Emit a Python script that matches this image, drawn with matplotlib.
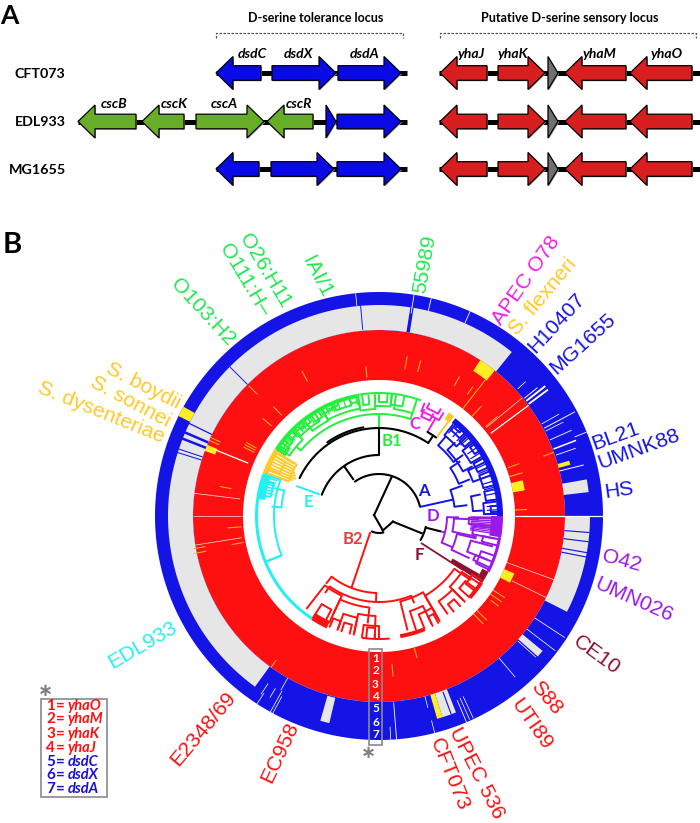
# -*- coding: utf-8 -*-
# Panel A: gene neighbourhoods. Panel B: circular tree with gene presence rings.
import numpy as np
import matplotlib
matplotlib.use('Agg')
import matplotlib.pyplot as plt
from matplotlib.patches import Polygon, Rectangle

BLUE = '#1414e6'
RED = '#fe1010'
GREY = '#e6e6e6'
YELLOW = '#ffee22'
ORANGE = '#ffb020'
WHITE = '#ffffff'
GOLD = '#ffc926'
GREEN = '#1fe84f'
TREE_GREEN = '#22f03c'
MAGENTA = '#f01ee6'
CYAN = '#22f0f5'
PURPLE = '#9a18e8'
DARK_RED = '#8e1230'

# ---- panel A ----
row_names = ['CFT073', 'EDL933', 'MG1655']
row_y = [73, 121.5, 169]
row_name_x = [40, 40, 37]
backbones = [[(216, 407), (439, 700)], [(78, 407), (439, 700)], [(216, 407), (439, 700)]]

# (left, right, direction) per row
blue_genes = [
    [(216, 261, -1), (272, 336, 1), (338, 401, 1)],
    [(326, 336, 1), (337, 401, 1)],
    [(216, 259, -1), (271, 334, 1), (337, 401, 1)],
]
red_genes = [(440, 487, -1), (498, 545, 1), (565, 626, -1), (630, 692, -1)]
grey_gene = (548, 558, 1)
green_genes = [(78, 136, -1), (142, 184, -1), (196, 264, 1), (267, 313, -1)]

gene_labels_top = ['dsdC', 'dsdX', 'dsdA', 'yhaJ', 'yhaK', 'yhaM', 'yhaO']
gene_labels_top_x = [252, 298, 365, 471, 513, 600, 667]
gene_labels_mid = ['cscB', 'cscK', 'cscA', 'cscR']
gene_labels_mid_x = [114, 174, 224, 299]

# ---- panel B rings, angles in degrees ----
grey_spans = [(51, 234, 186, 211), (-27, 0, 186, 211), (6.5, 10, 186, 211),
              (-41.5, -39.5, 186, 212), (-72.5, -68.6, 186, 211), (254, 256.5, 187, 213)]
yellow_spans = [(51.5, 57, 173, 186), (150.8, 153.5, 211, 224), (10, 14, 136, 148),
                (-27, -23, 136, 147), (-74, -72.5, 186, 211), (157.5, 159.5, 175, 186),
                (15, 16.2, 186, 198)]
blue_lines = [(95, 187, 211, .9), (81, 186, 211, 3.2), (135, 186, 211, .9),
              (154, 186, 214, 1.2), (156.7, 186, 214, 2.4), (158.5, 186, 214, 2.4),
              (161.5, 186, 214, 1), (162.5, 186, 214, 1), (-4.5, 186, 211, 1.1),
              (-7, 186, 211, 1.1), (-10, 186, 222, 1.1), (-11.2, 186, 222, 1.1), (-70, 187, 211, 1.1)]
white_lines = [(0, 136, 224, 1.2), (36.5, 139, 186, 1.2), (39.5, 139, 186, .7), (-20, 136, 186, .7),
               (-26, 148, 186, .7), (158, 141, 177, 1.2), (173, 140, 186, .7), (180, 137, 186, .7),
               (189, 139, 186, .7), (96, 211, 224, .7), (81, 205, 224, .8), (76.5, 211, 224, .8),
               (66, 211, 224, .8), (42.5, 188, 199, .7), (38, 187, 211, 1.8), (36.8, 187, 211, 1.8),
               (39, 187, 204, .9), (28, 187, 222, .9), (29.5, 187, 207, .7), (27, 187, 207, .7),
               (24, 187, 211, .8), (22, 211, 224, .8), (21, 187, 211, 1.5), (19, 187, 208, .8),
               (14, 186, 211, .9), (-33.2, 186, 222, .7), (-37.4, 186, 222, .7), (-42, 187, 211, .7),
               (-49.8, 186, 211, .7), (-65, 199, 223, .7), (-66, 199, 223, .7), (-67, 200, 224, .8),
               (-75.7, 186, 198, .7), (-75.6, 211, 224, .7), (-85.5, 187, 224, .8), (-87, 211, 224, .7),
               (236.5, 201, 214, .7), (237, 211, 224, .7), (239, 201, 212, .7), (240.6, 186, 200, .7),
               (241, 200, 226, .7), (241.7, 205, 226, .7)]
orange_lines = [(118, 152, 164), (95, 139, 150), (134, 140, 152), (140, 140, 152), (135, 172, 184),
                (80, 149, 162), (75, 149, 161), (60, 150, 161), (54, 150, 160), (47, 136, 150),
                (52, 136, 175), (40, 139, 155), (20, 175, 186), (20.5, 138, 150), (16.8, 136, 150),
                (2.5, 136, 148), (-33, 136, 150), (-35, 136, 150), (-37, 140, 150), (-44, 136, 150),
                (-46, 136, 150), (-75, 136, 147), (-85, 149, 161), (234.5, 177, 186), (151, 140, 152),
                (152, 140, 152), (153, 140, 152), (169.5, 150, 162), (184.5, 138, 152), (191, 138, 150),
                (190, 176, 188), (191.5, 176, 188), (155, 175, 186), (156, 175, 186)]

# ---- tree: (a0, a1, r_in, r_out) brackets and loose pieces ----
black_arcs = [(245, 285, 17), (13, 125, 42), (90, 159.6, 61), (56, 154.5, 88), (100, 125, 90),
              (-30, -13, 48), (54, 60, 97)]
black_radials = [(125, 44, 61), (90, 61, 88), (56, 88, 97), (-14, 48, 64)]
black_joins = [((72, 41), (170, 5)), ((170, 5), (285, 15)), ((338, 15), (-22, 46)),
               ((285, 15), (338, 15))]
tree_clades = {
    'green': (TREE_GREEN, [(72, 140, 102, 108), (72, 82, 108, 122), (84, 92, 110, 122), (92, 100, 107, 121),
                           (100, 118, 109, 118), (104, 112, 114, 122), (118, 128, 108, 120), (122, 135, 112, 122),
                           (135, 146, 108, 120), (139, 146, 114, 122), (95, 98, 112, 122), (78, 84, 112, 123),
                           (126, 132, 116, 123), (110, 116, 118, 124), (86, 90, 114, 123), (100, 104, 116, 123),
                           (113, 118, 116, 123), (120, 124, 114, 122), (129, 134, 118, 123), (136, 139, 116, 123),
                           (141, 145, 117, 123), (143, 147, 112, 122)]),
    'magenta': (MAGENTA, [(58, 68, 113, 122), (60, 66, 118, 124), (62, 67, 108, 116)]),
    'gold': (GOLD, [(148, 159, 97, 118), (150, 157, 108, 122)]),
    'cyan': (CYAN, [(160, 202, 105, 122), (163, 170, 110, 120), (165, 175, 98, 108)]),
    'blue': (BLUE, [(7, 20, 76, 89), (3, 12, 94, 104), (1, 7, 105, 118), (8, 13, 108, 120), (22, 34, 86, 98),
                    (28, 44, 95, 106), (36, 50, 92, 104), (42, 51, 104, 118), (30, 38, 106, 118),
                    (20, 27, 100, 120), (15, 22, 108, 122), (44, 50, 112, 122), (33, 37, 114, 122),
                    (24, 29, 108, 120), (39, 43, 110, 122), (46, 49, 116, 122), (2, 5, 112, 122)]),
    'purple': (PURPLE, [(-23, -1, 68, 80), (-12, -2, 75, 100), (-5, -1, 90, 115), (-11, -6, 95, 118),
                        (-25, -13, 80, 100), (-22, -15, 95, 118), (-26, -19, 108, 122), (-14, -11, 106, 122),
                        (-25, -22, 104, 122)]),
    'red': (RED, [(232, 268, 77, 86), (235, 292, 86, 94), (232, 245, 88, 118), (237, 243, 105, 122),
                  (245, 264, 92, 108), (250, 258, 104, 120), (258, 268, 100, 122), (262, 270, 110, 123),
                  (252, 256, 112, 122), (284, 300, 88, 118), (288, 296, 100, 120), (292, 300, 106, 122),
                  (300, 325, 92, 112), (305, 315, 104, 120), (315, 326, 100, 122), (322, 328, 110, 122),
                  (246, 250, 112, 122), (264, 268, 112, 123), (296, 299, 112, 123), (308, 312, 112, 122),
                  (318, 323, 108, 122)]),
}
loose_radials = [(60, 97, 113, MAGENTA), (53.7, 97, 118, GOLD), (160, 63, 88, CYAN), (12.5, 42, 76, BLUE),
                 (-14, 64, 68, PURPLE), (90, 88, 102, TREE_GREEN), (202, 105, 122, CYAN)]
tip_bands = [(160, 172, 115, 124, CYAN), (172, 237, 121, 124, CYAN), (147, 160, 119, 124, GOLD),
             (53, 56, 117, 125, GOLD), (100, 147, 120, 124, TREE_GREEN), (70, 100, 122, 124, TREE_GREEN),
             (0, 52, 118, 124, BLUE), (-10, 0, 112, 124, PURPLE), (-27, -10, 121, 124, PURPLE),
             (-33, -27, 116, 123, DARK_RED), (237, 245, 116, 124, RED), (262, 275, 122, 124, RED),
             (280, 292, 120, 124, RED), (318, 327, 120, 124, RED)]
gold_fan = [148.5, 150, 151.5, 153, 154.5, 156, 157.5, 159]
gold_fan_start = [100, 98, 96, 94, 92, 91, 93, 96]
cyan_fan = [161, 162.5, 164, 165.5, 167, 168.5]
purple_fan = [-0.6, -1.5, -2.4, -3.3, -4.2, -5.1, -6, -6.9, -7.8, -8.7]
blue_fan = [1, 3, 5, 8, 11, 14, 17, 20, 23, 26, 29, 32, 35, 38, 41, 44, 47, 50]
green_fan = [101, 104, 107, 110, 113, 116, 119, 122, 125, 128, 130, 132, 134, 136, 138, 140, 141.5, 143, 144.5, 146]

tree_letters = ['B1', 'A', 'D', 'C', 'E', 'B2', 'F']
tree_letter_pos = [(392, 441), (424, 491), (433, 516), (415, 424), (308, 502), (353, 539), (419, 555)]
tree_letter_col = [TREE_GREEN, BLUE, PURPLE, MAGENTA, CYAN, '#e04040', DARK_RED]

# strain name, centre x, centre y, rotation, colour
strain_names = ['O103:H2', 'O26:H11', 'O111:H–', 'IAI/1', '55989', 'APEC O78', 'S. flexneri', 'H10407',
                'MG1655', 'BL21', 'UMNK88', 'HS', 'O42', 'UMN026', 'CE10', 'S88', 'UTI89', 'UPEC 536',
                'CFT073', 'EC958', 'E2348/69', 'EDL933', 'S. boydii', 'S. sonnei', 'S. dysenteriae']
strain_x = [203, 265, 245, 317, 425, 526, 543, 557, 583, 616, 639, 619, 622, 634, 597, 546, 531, 477,
            449, 280, 203, 143, 143, 130, 101]
strain_y = [312, 271, 280, 277, 264, 280, 297, 323, 344, 436, 449, 491, 561, 600, 655, 698, 724, 773,
            774, 752, 729, 645, 386, 402, 412]
strain_rot = [-47, -59, -59, -63, 80, 55, 50, 47, 42, 20, 20, 8, -15, -24, -36, -50, -55, -63, -68, 65,
              50, 30, -27, -28, -22]
strain_col = [GREEN, GREEN, GREEN, GREEN, GREEN, MAGENTA, GOLD, BLUE, BLUE, BLUE, BLUE, BLUE, PURPLE,
              PURPLE, DARK_RED, RED, RED, RED, RED, RED, RED, CYAN, GOLD, GOLD, GOLD]

legend_genes = ['yhaO', 'yhaM', 'yhaK', 'yhaJ', 'dsdC', 'dsdX', 'dsdA']
legend_y = [706, 719, 734, 748, 762, 775, 789]
ring_number_y = [659, 671, 684, 697, 709, 722, 735]

CX, CY = 379, 516

fig = plt.figure(figsize=(7, 8.23), dpi=100)
ax = fig.add_axes([0, 0, 1, 1])
ax.set_xlim(0, 700)
ax.set_ylim(823, 0)
ax.axis('off')


def pol(a, r):
    t = np.radians(a)
    return CX + r * np.cos(t), CY - r * np.sin(t)


def sector(a0, a1, r0, r1, color, z=2):
    t = np.linspace(a0, a1, max(3, int(abs(a1 - a0) * 2)))
    xo, yo = pol(t, r1)
    xi, yi = pol(t[::-1], r0)
    pts = np.column_stack([np.r_[xo, xi], np.r_[yo, yi]])
    ax.add_patch(Polygon(pts, closed=True, fc=color, ec='none', zorder=z))


def arc(a0, a1, r, color, lw=1.5, z=4):
    t = np.linspace(a0, a1, max(3, int(abs(a1 - a0) * 2)))
    x, y = pol(t, r)
    ax.plot(x, y, color=color, lw=lw, zorder=z, solid_capstyle='round')


def radial(a, r0, r1, color, lw=1.5, z=4):
    x, y = pol(np.array([a, a]), np.array([r0, r1]))
    ax.plot(x, y, color=color, lw=lw, zorder=z, solid_capstyle='butt')


def gene(x0, x1, y, d, color):
    head = min(17, x1 - x0)
    h0, h1 = 7.3, 16.5
    if d > 0:
        s = x1 - head
        pts = [(x0, y - h0), (s, y - h0), (s, y - h1), (x1, y), (s, y + h1), (s, y + h0), (x0, y + h0)]
    else:
        s = x0 + head
        pts = [(x1, y - h0), (s, y - h0), (s, y - h1), (x0, y), (s, y + h1), (s, y + h0), (x1, y + h0)]
    if x1 - x0 <= 17:
        pts = [(x0, y - h1), (x1, y), (x0, y + h1)]
    shadow = [(p[0] + 1, p[1] + 1) for p in pts]
    ax.add_patch(Polygon(shadow, closed=True, fc='#a8a8a8', ec='none', zorder=3))
    ax.add_patch(Polygon(pts, closed=True, fc=color, ec='black', lw=.9, zorder=4))


# ---- panel A ----
ax.text(0, 24, 'A', family='Lato', weight='bold', fontsize=19, va='baseline')
ax.text(3, 253, 'B', family='Lato', weight='bold', fontsize=21, va='baseline')
ax.text(316, 18, 'D-serine tolerance locus', family='Lato', weight='bold', fontsize=9, ha='center', va='center')
ax.text(570, 18, 'Putative D-serine sensory locus', family='Lato', weight='bold', fontsize=9.1, ha='center', va='center')
for x0, x1 in [(216, 403), (440, 696)]:
    ax.plot([x0, x0, x1, x1], [38, 33, 33, 38], color='#555555', lw=.9, ls=(0, (2, 1.2)))

for i, y in enumerate(row_y):
    ax.text(row_name_x[i], y + .5, row_names[i], family='Lato', weight='bold', fontsize=10.3, ha='center', va='center')
    for x0, x1 in backbones[i]:
        ax.plot([x0, x1], [y, y], color='black', lw=3.6, solid_capstyle='butt', zorder=2)
    for x0, x1, d in blue_genes[i]:
        gene(x0, x1, y, d, '#0a0ae6')
    for x0, x1, d in red_genes:
        gene(x0, x1, y, d, '#d81e1e')
    gene(grey_gene[0], grey_gene[1], y, grey_gene[2], '#707070')
for x0, x1, d in green_genes:
    gene(x0, x1, row_y[1], d, '#68ad28')
for name, x in zip(gene_labels_top, gene_labels_top_x):
    ax.text(x, 54, name, family='Lato', weight='bold', style='italic', fontsize=10, ha='center', va='center', zorder=6)
for name, x in zip(gene_labels_mid, gene_labels_mid_x):
    ax.text(x, 104, name, family='Lato', weight='bold', style='italic', fontsize=10, ha='center', va='center', zorder=6)

# ---- rings ----
sector(-90, 270, 136, 186, RED, 1)
sector(-90, 270, 186, 224, BLUE, 1)
for a0, a1, r0, r1 in grey_spans:
    sector(a0, a1, r0, r1, GREY, 2)
for a0, a1, r0, r1 in yellow_spans:
    sector(a0, a1, r0, r1, YELLOW, 3)
for a, r0, r1, lw in blue_lines:
    radial(a, r0, r1, BLUE, lw * .75, 3)
for a, r0, r1, lw in white_lines:
    radial(a, r0, r1, WHITE if r0 > 180 or lw > 1 else '#ffd8d8', lw * .75, 3)
for a, r0, r1 in orange_lines:
    radial(a, r0, r1, ORANGE, .75, 3)

# ---- tree ----
for a0, a1, r0, r1, col in tip_bands:
    sector(a0, a1, r0, r1, col, 3)
for a, r0 in zip(gold_fan, gold_fan_start):
    radial(a, r0, 122, GOLD, 1.3)
for a in cyan_fan:
    radial(a, 108, 122, CYAN, 1.1)
for a in purple_fan:
    radial(a, 92, 122, PURPLE, .9)
for a in blue_fan:
    radial(a, 108, 122, BLUE, .9)
for a in green_fan:
    radial(a, 113, 122, TREE_GREEN, .9)
sector(-33, -30, 85, 116, DARK_RED, 3)
radial(-32.7, 50, 100, DARK_RED, 1.3)

for name, (col, brackets) in tree_clades.items():
    for a0, a1, ri, ro in brackets:
        arc(a0, a1, ri, col, 1.4)
        radial(a0, ri, ro, col, 1.4)
        radial(a1, ri, ro, col, 1.4)
for a, r0, r1, col in loose_radials:
    radial(a, r0, r1, col, 1.4)
x0, y0 = pol(242, 19)
x1, y1 = pol(249, 76)
ax.plot([x0, x1], [y0, y1], color=RED, lw=1.4, zorder=4)

for a0, a1, r in black_arcs:
    arc(a0, a1, r, 'black', 1.5, 5)
for a, r0, r1 in black_radials:
    radial(a, r0, r1, 'black', 1.5, 5)
for p, q in black_joins:
    x0, y0 = pol(*p)
    x1, y1 = pol(*q)
    ax.plot([x0, x1], [y0, y1], color='black', lw=1.5, zorder=5)

for s, (x, y), col in zip(tree_letters, tree_letter_pos, tree_letter_col):
    ax.text(x, y, s, family='Lato', weight='bold', fontsize=12, color=col, ha='center', va='center', zorder=6)

# ---- strain labels ----
for s, x, y, rot, col in zip(strain_names, strain_x, strain_y, strain_rot, strain_col):
    ax.text(x, y, s, family='Liberation Sans', fontsize=15.2, color=col, rotation=rot,
            rotation_mode='anchor', ha='center', va='center', zorder=6)

# ---- ring number box and legend ----
ax.add_patch(Rectangle((369, 649), 13, 96, fc='none', ec='#8a8a8a', lw=1.2, zorder=6))
for k, y in enumerate(ring_number_y):
    ax.text(375.5, y, str(k + 1), family='Lato', weight='bold', fontsize=8.5, color='white', ha='center', va='center', zorder=7)
ax.text(368, 753, '∗', family='DejaVu Sans', weight='bold', fontsize=13, color='#808080', ha='center', va='center')
ax.text(45, 691, '∗', family='DejaVu Sans', weight='bold', fontsize=13, color='#808080', ha='center', va='center')

ax.add_patch(Rectangle((41, 699), 66, 98, fc='white', ec='#8a8a8a', lw=1.2, zorder=6))
for k, (g, y) in enumerate(zip(legend_genes, legend_y)):
    col = RED if k < 4 else '#1a10d8'
    ax.text(46, y, str(k + 1), family='Lato', weight='bold', fontsize=11, color=col, va='center', zorder=7)
    ax.text(56, y, '=', family='Lato', weight='bold', fontsize=11, color=col, va='center', zorder=7)
    ax.text(67.5, y, g, family='Lato', weight='bold', style='italic', fontsize=10.5, color=col, va='center', zorder=7)

fig.savefig('out.png', dpi=100)
